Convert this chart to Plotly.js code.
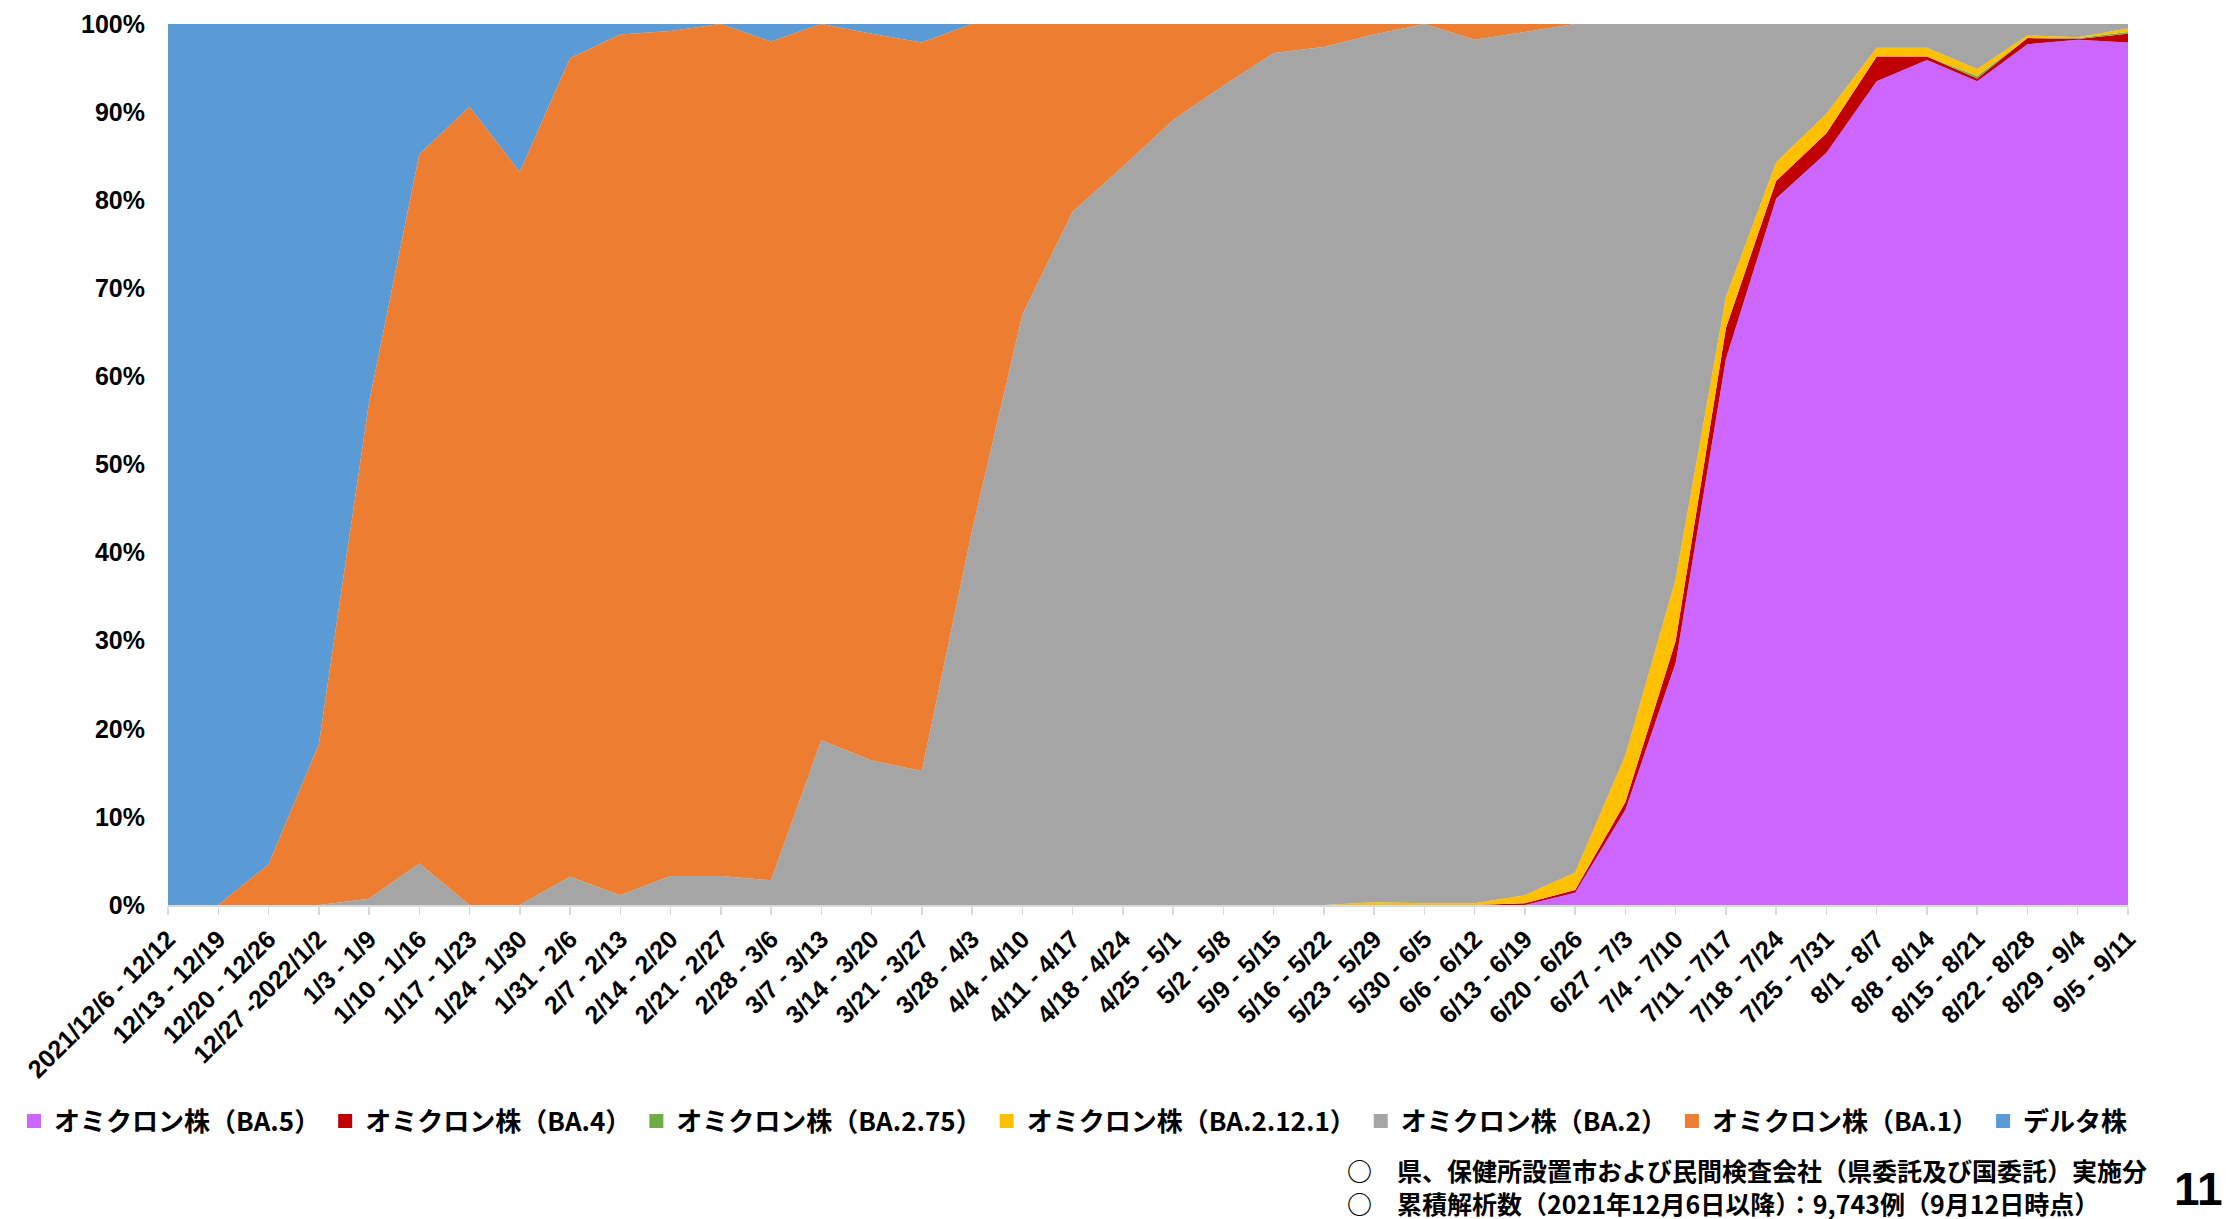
<!DOCTYPE html>
<html>
<head>
<meta charset="utf-8">
<script src="https://cdn.plot.ly/plotly-3.0.1.min.js"></script>
<style>
html,body{margin:0;padding:0;background:#fff;}
#chart{width:2239px;height:1219px;}
</style>
</head>
<body>
<div id="chart"></div>
<script>
// ---- data ----
const categories = [
  "2021/12/6 - 12/12","12/13 - 12/19","12/20 - 12/26","12/27 -2022/1/2","1/3 - 1/9",
  "1/10 - 1/16","1/17 - 1/23","1/24 - 1/30","1/31 - 2/6","2/7 - 2/13",
  "2/14 - 2/20","2/21 - 2/27","2/28 - 3/6","3/7 - 3/13","3/14 - 3/20",
  "3/21 - 3/27","3/28 - 4/3","4/4 - 4/10","4/11 - 4/17","4/18 - 4/24",
  "4/25 - 5/1","5/2 - 5/8","5/9 - 5/15","5/16 - 5/22","5/23 - 5/29",
  "5/30 - 6/5","6/6 - 6/12","6/13 - 6/19","6/20 - 6/26","6/27 - 7/3",
  "7/4 - 7/10","7/11 - 7/17","7/18 - 7/24","7/25 - 7/31","8/1 - 8/7",
  "8/8 - 8/14","8/15 - 8/21","8/22 - 8/28","8/29 - 9/4","9/5 - 9/11"
];
const seriesNames = ["オミクロン株（BA.5）","オミクロン株（BA.4）","オミクロン株（BA.2.75）","オミクロン株（BA.2.12.1）","オミクロン株（BA.2）","オミクロン株（BA.1）","デルタ株"];
const ba5 = [0,0,0,0,0,0,0,0,0,0, 0,0,0,0,0,0,0,0,0,0, 0,0,0,0,0,0,0,0,1.4,10.8, 27.5,62.0,80.2,85.4,93.5,95.9,93.5,97.7,98.2,97.9];
const ba4 = [0,0,0,0,0,0,0,0,0,0, 0,0,0,0,0,0,0,0,0,0, 0,0,0,0,0,0,0,0.2,0.3,0.9, 2.5,3.5,2.0,2.2,2.8,0.4,0.3,0.7,0.1,1.0];
const ba275 = [0,0,0,0,0,0,0,0,0,0, 0,0,0,0,0,0,0,0,0,0, 0,0,0,0,0,0,0,0,0,0, 0,0,0,0,0,0,0.3,0,0.1,0.2];
const ba2121 = [0,0,0,0,0,0,0,0,0,0, 0,0,0,0,0,0,0,0,0,0, 0,0,0,0,0.3,0.2,0.2,0.9,2.0,5.3, 7.0,3.5,2.1,2.2,1.0,1.0,0.8,0.3,0.1,0.4];
const ba2 = [0,0,0,0,0.7,4.7,0,0,3.2,1.1, 3.3,3.3,2.8,18.7,16.4,15.2,42.5,67.0,78.7,83.8, 89.1,93.0,96.7,97.4,98.5,99.8,98.0,98.0,96.3,83.0, 63.0,31.0,15.7,10.2,2.7,2.7,5.1,1.3,1.5,0.5];
const ba1 = [0,0,4.6,18.2,56.3,80.5,90.6,83.2,92.9,97.7, 95.9,96.7,95.2,81.3,82.5,82.7,57.5,33.0,21.3,16.2, 10.9,7.0,3.3,2.6,1.2,0,1.8,0.9,0,0, 0,0,0,0,0,0,0,0,0,0];
const delta = [100,100,95.4,81.8,43.0,14.8,9.4,16.8,3.9,1.2, 0.8,0,2.0,0,1.1,2.1,0,0,0,0, 0,0,0,0,0,0,0,0,0,0, 0,0,0,0,0,0,0,0,0,0];
const yTicks = [0,10,20,30,40,50,60,70,80,90,100];
const yTickLabels = ["0%","10%","20%","30%","40%","50%","60%","70%","80%","90%","100%"];
const footnotes = ["○　県、保健所設置市および民間検査会社（県委託及び国委託）実施分","○　累積解析数（2021年12月6日以降）：9,743例（9月12日時点）"];
const pageNumber = "11";

// ---- styling ----
const colors = ["#CC66FF","#C00000","#70AD47","#FFC000","#A5A5A5","#ED7D31","#5B9BD5"];
const seriesValues = [ba5, ba4, ba275, ba2121, ba2, ba1, delta];

const W = 2239, H = 1219;
const M = {l:168, r:111, t:24, b:314};
const PW = W - M.l - M.r, PH = H - M.t - M.b;
const px = X => (X - M.l) / PW;
const py = Y => (H - M.b - Y) / PH;

const jp = "'Noto Sans CJK JP', 'Noto Sans', sans-serif";
const lat = "'Liberation Sans', Arial, sans-serif";

const traces = [];
seriesValues.forEach((vals, k) => {
  traces.push({
    type: 'scatter', x: categories, y: vals, name: seriesNames[k],
    stackgroup: 'one', mode: 'none', fillcolor: colors[k],
    line: {width: 0, color: colors[k]}, showlegend: false, hoverinfo: 'x+y+name'
  });
});
seriesValues.forEach((vals, k) => {
  traces.push({
    type: 'scatter', x: [null], y: [null], name: seriesNames[k],
    mode: 'markers', marker: {symbol: 'square', size: 14, color: colors[k]},
    showlegend: true, hoverinfo: 'skip'
  });
});

const layout = {
  width: W, height: H,
  margin: M,
  paper_bgcolor: '#fff', plot_bgcolor: '#fff',
  showlegend: true,
  legend: {
    orientation: 'h', x: px(14), xanchor: 'left', y: py(1121), yanchor: 'middle',
    traceorder: 'normal', itemwidth: 30,
    font: {family: jp, size: 26, color: '#000', weight: 'bold'},
    bgcolor: 'rgba(0,0,0,0)'
  },
  xaxis: {
    type: 'category', range: [0, categories.length - 1],
    showgrid: false, zeroline: false,
    showline: true, linecolor: '#D9D9D9', linewidth: 1.5,
    ticks: 'outside', ticklen: 8, tickcolor: '#D9D9D9', tickwidth: 1.5,
    tickangle: -45,
    tickfont: {family: lat, size: 25, color: '#000', weight: 'bold'},
    fixedrange: true
  },
  yaxis: {
    range: [0, 100], tickmode: 'array', tickvals: yTicks, ticktext: yTickLabels,
    showgrid: false, zeroline: false, showline: false, ticks: '',
    ticklabelstandoff: 22,
    tickfont: {family: lat, size: 25, color: '#000', weight: 'bold'},
    fixedrange: true
  },
  annotations: [
    {xref: 'paper', yref: 'paper', x: px(1346), y: py(1186), xanchor: 'left', yanchor: 'middle',
     align: 'left', borderpad: 0,
     text: footnotes.join('<br>'), showarrow: false, font: {family: jp, size: 25, color: '#000', weight: 'bold'}},
    {xref: 'paper', yref: 'paper', x: px(2224), y: py(1216), xanchor: 'right', yanchor: 'bottom',
     borderpad: 0,
     text: pageNumber, showarrow: false, font: {family: lat, size: 46, color: '#000', weight: 'bold'}}
  ]
};

Plotly.newPlot('chart', traces, layout, {displayModeBar: false, staticPlot: true});
</script>
</body>
</html>
